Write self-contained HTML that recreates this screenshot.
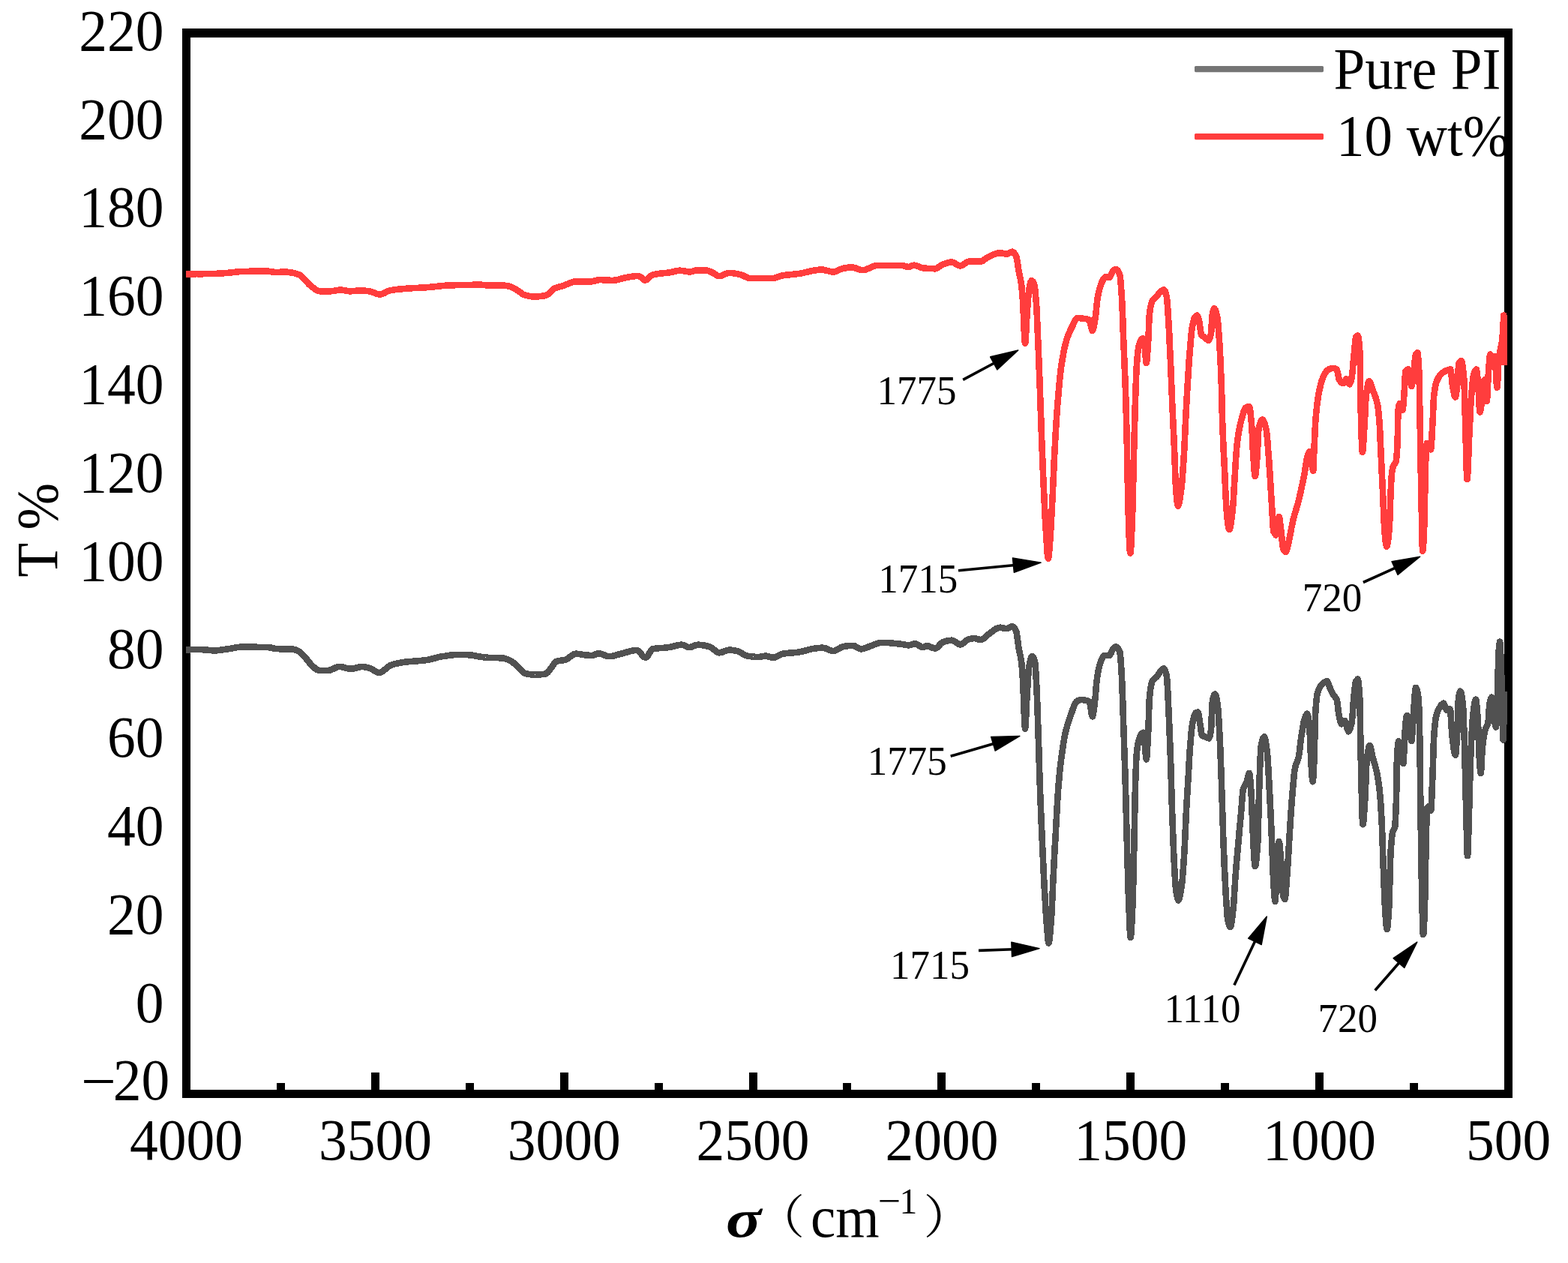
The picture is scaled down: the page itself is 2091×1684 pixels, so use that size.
<!DOCTYPE html>
<html lang="en"><head><meta charset="utf-8"><title>FTIR spectra</title>
<style>html,body{margin:0;padding:0;background:#fff}body{width:2091px;height:1684px;overflow:hidden}svg{display:block}text{font-family:'Liberation Serif', 'Noto Serif CJK SC', serif;fill:#000}</style>
</head><body>
<svg width="2091" height="1684" viewBox="0 0 2091 1684">
<rect x="0" y="0" width="2091" height="1684" fill="#fff"/>
<g id="legend">
<rect x="1593" y="88" width="172" height="8.2" rx="1.6" fill="#757575"/>
<rect x="1593" y="178" width="172" height="8.2" rx="1.6" fill="#ff3d3d"/>
<text transform="translate(1778.6 117.6) scale(1.000 1.030)" font-size="75.0">Pure PI</text>
<text transform="translate(1782.0 206.8) scale(1.000 1.045)" font-size="75.0">10 wt%</text>
</g>
<g id="frame" fill="#000" shape-rendering="crispEdges">
<rect x="243" y="38" width="1774" height="12"/>
<rect x="243" y="1453" width="1774" height="11"/>
<rect x="243" y="38" width="11" height="1426"/>
<rect x="2006" y="38" width="11" height="1426"/>
<rect x="495" y="1430" width="11" height="24"/>
<rect x="747" y="1430" width="11" height="24"/>
<rect x="999" y="1430" width="11" height="24"/>
<rect x="1250" y="1430" width="11" height="24"/>
<rect x="1502" y="1430" width="11" height="24"/>
<rect x="1754" y="1430" width="11" height="24"/>
<rect x="369" y="1444" width="11" height="10"/>
<rect x="621" y="1444" width="11" height="10"/>
<rect x="873" y="1444" width="11" height="10"/>
<rect x="1124" y="1444" width="11" height="10"/>
<rect x="1376" y="1444" width="11" height="10"/>
<rect x="1628" y="1444" width="11" height="10"/>
<rect x="1880" y="1444" width="11" height="10"/>
</g>
<g id="yticks">
<text transform="translate(218.6 66.7) scale(1.000 1.050)" font-size="75.5" text-anchor="end">220</text>
<text transform="translate(218.6 184.5) scale(1.000 1.050)" font-size="75.5" text-anchor="end">200</text>
<text transform="translate(218.6 302.3) scale(1.000 1.050)" font-size="75.5" text-anchor="end">180</text>
<text transform="translate(218.6 420.1) scale(1.000 1.050)" font-size="75.5" text-anchor="end">160</text>
<text transform="translate(218.6 537.9) scale(1.000 1.050)" font-size="75.5" text-anchor="end">140</text>
<text transform="translate(218.6 655.8) scale(1.000 1.050)" font-size="75.5" text-anchor="end">120</text>
<text transform="translate(218.6 773.6) scale(1.000 1.050)" font-size="75.5" text-anchor="end">100</text>
<text transform="translate(218.6 891.4) scale(1.000 1.050)" font-size="75.5" text-anchor="end">80</text>
<text transform="translate(218.6 1009.2) scale(1.000 1.050)" font-size="75.5" text-anchor="end">60</text>
<text transform="translate(218.6 1127.0) scale(1.000 1.050)" font-size="75.5" text-anchor="end">40</text>
<text transform="translate(218.6 1244.8) scale(1.000 1.050)" font-size="75.5" text-anchor="end">20</text>
<text transform="translate(218.6 1362.6) scale(1.000 1.050)" font-size="75.5" text-anchor="end">0</text>
<text transform="translate(108.0 1467.5) scale(1.100 1.050)" font-size="75.5">−</text>
<text transform="translate(226.3 1466.3) scale(1.000 1.050)" font-size="75.5" text-anchor="end">20</text>
</g>
<g id="xticks">
<text transform="translate(248.5 1546.4) scale(1.000 1.050)" font-size="75.5" text-anchor="middle">4000</text>
<text transform="translate(500.4 1546.4) scale(1.000 1.050)" font-size="75.5" text-anchor="middle">3500</text>
<text transform="translate(752.2 1546.4) scale(1.000 1.050)" font-size="75.5" text-anchor="middle">3000</text>
<text transform="translate(1004.1 1546.4) scale(1.000 1.050)" font-size="75.5" text-anchor="middle">2500</text>
<text transform="translate(1255.9 1546.4) scale(1.000 1.050)" font-size="75.5" text-anchor="middle">2000</text>
<text transform="translate(1507.8 1546.4) scale(1.000 1.050)" font-size="75.5" text-anchor="middle">1500</text>
<text transform="translate(1759.6 1546.4) scale(1.000 1.050)" font-size="75.5" text-anchor="middle">1000</text>
<text transform="translate(2011.5 1546.4) scale(1.000 1.050)" font-size="75.5" text-anchor="middle">500</text>
</g>
<g id="titles">
<text transform="translate(76.4 769.6) rotate(-90) scale(1.000 1.030)" font-size="75.0">T %</text>
<text transform="translate(968.0 1649.0) scale(1.170 0.970)" font-size="75.0" font-style="italic" font-weight="bold">σ</text>
<text transform="translate(1007.6 1644.8) scale(1.060 1.000)" font-size="62.0">（</text>
<text transform="translate(1081.0 1649.0) scale(1.000 1.030)" font-size="75.0">cm</text>
<text transform="translate(1170.5 1618.2) scale(1.080 1.000)" font-size="50.0">−</text>
<text transform="translate(1199.5 1618.2) scale(1.000 1.040)" font-size="47.5">1</text>
<text transform="translate(1231.4 1644.8) scale(1.060 1.000)" font-size="62.0">）</text>
</g>
<g id="curves" fill="none" stroke-width="8.6" stroke-linejoin="round" stroke-linecap="butt" shape-rendering="crispEdges">
<polyline stroke="#515151" points="247.9,866.6 250.9,866.4 253.9,866.2 256.9,866.1 259.8,866.0 262.8,866.0 265.8,866.0 268.7,866.1 271.5,866.3 274.4,866.6 277.3,866.8 280.2,867.1 283.0,867.3 285.9,867.4 288.8,867.3 291.6,867.0 294.5,866.7 297.4,866.2 300.2,865.8 303.1,865.4 306.0,865.0 308.8,864.5 311.7,863.9 314.6,863.4 317.5,863.0 320.3,862.7 323.2,862.6 326.1,862.6 328.9,862.6 331.8,862.6 334.7,862.7 337.5,862.7 340.4,862.7 343.3,862.8 346.1,862.8 349.0,862.9 351.9,862.9 354.7,863.0 357.6,863.1 360.5,863.4 363.4,864.1 366.2,864.8 369.1,865.1 372.0,865.2 374.8,865.2 377.7,865.2 380.6,865.3 383.5,865.3 386.3,865.3 389.2,865.4 392.1,865.8 394.9,866.8 397.8,868.0 400.7,870.0 403.5,872.9 406.4,876.0 409.3,879.3 412.1,883.0 415.0,886.1 417.5,888.6 420.1,891.1 422.6,893.0 425.1,893.8 427.7,893.8 430.3,893.8 432.8,893.8 435.4,893.8 438.0,893.8 440.9,893.3 443.7,892.1 446.6,890.7 449.4,889.5 452.3,889.0 454.9,889.2 457.6,889.7 460.2,890.4 462.8,891.1 465.5,891.6 468.1,891.8 471.0,891.5 473.9,890.8 476.7,890.0 479.6,889.3 482.5,889.0 485.4,889.2 488.2,889.7 491.0,890.4 493.9,891.2 496.8,892.6 499.6,894.5 502.5,896.2 505.4,897.0 507.8,896.4 510.2,894.9 512.6,893.3 515.5,891.1 518.3,888.6 521.2,886.9 524.1,885.9 526.9,885.1 529.8,884.5 532.7,883.9 535.6,883.4 538.4,883.0 541.3,882.6 544.2,882.3 547.0,882.0 549.9,881.8 552.8,881.6 555.6,881.4 558.5,881.1 561.4,880.9 564.2,880.6 567.1,880.3 570.0,879.8 572.9,879.3 575.7,878.6 578.6,877.8 581.5,877.1 584.4,876.3 587.2,875.7 590.1,875.2 593.0,874.8 595.8,874.3 598.7,873.9 601.6,873.5 604.5,873.2 607.3,873.0 610.2,872.9 613.1,872.9 615.9,873.0 618.8,873.0 621.6,873.1 624.5,873.2 627.4,873.4 630.2,873.8 633.1,874.3 636.0,874.8 638.9,875.4 641.8,875.9 644.6,876.3 647.5,876.6 650.4,876.8 653.2,876.9 656.1,876.9 659.0,877.0 661.8,877.1 664.7,877.2 667.5,877.3 670.4,877.5 673.3,878.0 676.1,879.0 679.0,880.3 681.9,881.8 684.4,883.5 686.9,885.7 689.4,888.1 691.9,890.4 694.8,893.4 697.6,896.4 700.5,898.1 703.1,898.6 705.7,899.0 708.3,899.3 710.9,899.5 713.5,899.6 716.4,899.6 719.2,899.4 722.1,899.2 724.9,898.8 727.8,898.4 730.2,896.8 732.6,893.6 735.0,890.4 737.4,887.1 739.8,883.8 742.2,881.8 745.1,881.1 747.9,880.7 750.8,880.4 753.6,879.8 756.5,878.5 759.4,876.4 762.2,874.2 765.1,872.4 768.0,871.7 770.9,871.9 773.8,872.3 776.6,872.8 779.5,873.2 782.0,873.5 784.5,873.7 787.0,873.9 789.5,874.0 792.4,873.3 795.2,871.9 798.1,871.2 801.0,871.6 803.9,872.6 806.7,873.8 809.6,874.8 812.5,875.2 815.1,875.0 817.7,874.6 820.4,873.9 823.0,873.1 825.6,872.4 828.2,871.7 831.1,870.9 834.1,870.1 837.0,869.2 840.0,868.3 842.9,867.6 845.9,867.1 848.8,866.9 851.3,867.9 853.7,870.4 856.2,873.4 858.6,875.9 861.1,876.9 863.4,875.2 865.7,871.4 868.0,867.5 870.3,865.4 873.0,864.9 875.7,864.5 878.4,864.2 881.0,864.0 883.7,863.9 886.4,863.7 889.1,863.4 891.8,863.1 894.7,862.6 897.5,861.9 900.4,861.1 903.3,860.4 906.1,859.9 909.0,859.7 911.5,860.2 914.0,861.4 916.6,862.6 919.1,863.1 922.0,862.6 924.9,861.4 927.7,860.2 930.6,859.7 933.2,859.8 935.8,860.1 938.5,860.5 941.1,861.0 943.7,861.6 946.3,862.3 948.9,863.6 951.5,865.6 954.1,867.8 956.7,869.6 959.3,870.3 961.9,869.9 964.5,869.0 967.0,867.9 969.6,867.0 972.2,866.6 975.1,866.7 977.9,867.1 980.8,867.7 983.6,868.3 986.2,869.3 988.8,870.7 991.4,872.4 994.0,873.8 996.6,874.6 999.2,875.0 1001.8,875.3 1004.5,875.6 1007.1,875.8 1009.7,876.0 1012.3,876.0 1015.2,875.6 1018.0,875.0 1020.9,874.6 1023.4,875.0 1026.0,875.8 1028.5,876.5 1031.0,876.9 1033.6,876.4 1036.2,875.3 1038.7,873.8 1041.3,872.5 1043.9,871.7 1046.8,871.3 1049.6,871.0 1052.5,870.7 1055.4,870.5 1058.3,870.3 1061.1,870.0 1064.0,869.7 1066.9,869.2 1069.7,868.6 1072.6,867.9 1075.5,867.1 1078.3,866.3 1081.2,865.6 1084.0,865.0 1086.9,864.6 1089.4,864.3 1092.0,864.0 1094.5,863.8 1097.0,863.7 1099.9,864.1 1102.7,865.2 1105.6,866.5 1108.4,867.6 1111.3,868.0 1113.9,867.5 1116.5,866.2 1119.0,864.6 1121.6,863.2 1124.2,862.3 1126.8,861.8 1129.4,861.4 1132.0,861.1 1134.6,860.9 1137.2,860.8 1140.0,861.5 1142.9,863.1 1145.8,864.7 1148.6,865.4 1151.5,865.0 1154.3,864.0 1157.2,862.8 1160.1,861.7 1162.7,860.8 1165.4,859.7 1168.0,858.6 1170.6,857.7 1173.3,857.0 1175.9,856.8 1178.8,856.8 1181.6,856.9 1184.5,857.1 1187.4,857.3 1190.2,857.6 1193.1,857.9 1196.0,858.2 1198.8,858.5 1201.7,858.8 1204.2,859.2 1206.8,859.7 1209.3,860.1 1211.8,860.3 1214.7,859.8 1217.5,858.7 1220.4,858.2 1222.9,859.0 1225.4,860.6 1227.9,862.3 1230.4,863.1 1233.3,862.1 1236.2,861.1 1238.9,861.6 1241.7,862.9 1244.4,864.1 1247.1,864.6 1249.8,863.4 1252.4,860.7 1255.0,857.8 1257.7,856.0 1260.6,855.1 1263.5,854.4 1266.3,853.9 1269.2,853.7 1272.0,854.6 1274.9,856.6 1277.8,858.5 1280.6,859.4 1283.5,858.4 1286.3,856.1 1289.2,853.7 1292.1,852.2 1294.5,851.7 1296.9,851.3 1299.3,851.1 1302.2,851.6 1305.0,852.6 1307.9,853.1 1310.4,852.3 1312.9,850.3 1315.4,847.9 1317.9,845.9 1320.5,844.0 1323.2,842.0 1325.8,840.0 1328.4,838.3 1331.1,837.1 1333.7,836.7 1336.6,837.1 1339.4,837.8 1342.3,838.2 1344.9,837.4 1347.4,835.9 1350.0,835.1 1352.5,836.9 1355.1,841.4 1355.9,845.1 1356.8,851.3 1357.7,858.2 1358.5,864.2 1359.6,869.7 1360.8,874.6 1361.9,881.3 1362.4,885.1 1362.8,889.9 1363.3,895.6 1363.7,902.3 1364.2,909.8 1364.4,913.9 1364.6,919.0 1364.8,924.8 1365.0,930.8 1365.2,936.7 1365.4,942.2 1365.6,946.8 1365.9,953.3 1366.2,959.9 1366.5,965.8 1366.8,970.0 1367.1,971.6 1367.4,970.1 1367.7,965.9 1368.0,960.0 1368.4,952.9 1368.7,945.5 1369.0,938.5 1369.3,932.6 1369.7,926.5 1370.0,920.1 1370.4,913.7 1370.8,907.6 1371.1,901.8 1371.5,896.8 1371.8,892.7 1372.2,889.8 1373.5,882.3 1374.9,877.0 1376.2,875.0 1378.1,876.7 1379.9,881.3 1380.2,883.2 1380.6,886.6 1381.0,891.1 1381.3,896.7 1381.7,903.0 1382.0,909.8 1382.4,916.9 1382.7,924.0 1382.9,928.3 1383.1,933.2 1383.3,938.5 1383.5,944.2 1383.7,950.1 1383.9,956.3 1384.1,962.5 1384.3,968.8 1384.5,975.0 1384.7,981.0 1384.9,986.8 1385.1,992.7 1385.3,998.8 1385.5,1004.9 1385.7,1011.1 1385.8,1017.3 1386.0,1023.4 1386.2,1029.5 1386.4,1035.5 1386.6,1041.3 1386.8,1046.9 1387.0,1052.3 1387.2,1058.9 1387.5,1065.3 1387.7,1071.6 1388.0,1077.8 1388.2,1083.9 1388.5,1089.8 1388.7,1095.7 1388.9,1101.4 1389.2,1107.1 1389.4,1112.7 1389.7,1118.2 1389.9,1123.6 1390.2,1130.1 1390.5,1136.5 1390.8,1142.9 1391.1,1149.2 1391.4,1155.4 1391.7,1161.5 1391.9,1167.5 1392.2,1173.3 1392.5,1179.0 1392.8,1184.4 1393.1,1189.7 1393.4,1194.8 1393.8,1200.9 1394.1,1206.9 1394.5,1212.7 1394.8,1218.2 1395.2,1223.5 1395.6,1228.6 1395.9,1233.3 1396.3,1237.6 1396.8,1244.1 1397.3,1250.6 1397.9,1255.6 1398.4,1257.6 1399.0,1256.2 1399.6,1252.2 1400.2,1246.4 1400.8,1239.2 1401.4,1231.3 1402.0,1223.3 1402.3,1219.2 1402.6,1214.4 1402.8,1209.0 1403.1,1203.2 1403.4,1197.0 1403.7,1190.7 1404.0,1184.3 1404.2,1178.0 1404.5,1172.0 1404.8,1166.3 1405.1,1160.4 1405.4,1154.5 1405.7,1148.7 1406.0,1142.9 1406.3,1137.2 1406.6,1131.5 1406.9,1125.9 1407.3,1120.3 1407.6,1114.8 1407.9,1109.3 1408.2,1103.3 1408.5,1097.1 1408.9,1090.9 1409.2,1084.7 1409.5,1078.7 1409.9,1072.8 1410.2,1067.1 1410.5,1061.8 1410.9,1056.8 1411.2,1052.3 1411.7,1045.7 1412.3,1039.4 1412.8,1033.6 1413.3,1028.1 1413.9,1023.0 1414.4,1018.2 1415.0,1013.7 1415.5,1009.5 1416.5,1002.5 1417.4,996.0 1418.3,990.0 1419.3,984.5 1420.2,979.6 1421.2,975.3 1423.0,968.4 1424.8,962.6 1426.5,957.4 1428.3,952.5 1430.7,945.5 1433.1,939.1 1435.5,935.4 1438.3,933.8 1441.2,933.1 1444.0,933.2 1446.9,933.6 1449.8,934.3 1452.6,935.4 1453.7,938.8 1454.8,945.6 1455.8,952.4 1456.9,955.4 1457.8,952.5 1458.8,945.8 1459.7,938.3 1460.2,933.7 1460.8,928.2 1461.3,922.1 1461.8,915.9 1462.3,910.1 1462.9,905.1 1463.4,901.2 1464.6,894.6 1465.8,889.1 1467.1,884.7 1468.3,881.3 1470.4,876.4 1472.5,874.1 1474.9,874.1 1477.3,874.1 1479.7,874.1 1481.8,870.4 1483.9,865.6 1486.1,863.3 1488.2,862.2 1490.7,863.8 1493.1,868.4 1493.6,870.5 1494.0,874.4 1494.5,879.8 1495.0,886.2 1495.4,893.5 1495.9,901.2 1496.1,905.1 1496.3,909.8 1496.5,915.1 1496.7,920.9 1496.9,927.1 1497.2,933.7 1497.4,940.4 1497.6,947.1 1497.8,953.9 1498.0,960.5 1498.2,966.8 1498.4,972.3 1498.6,977.7 1498.8,983.2 1498.9,988.6 1499.1,994.1 1499.3,999.6 1499.5,1005.1 1499.7,1010.7 1499.9,1016.3 1500.1,1022.0 1500.3,1027.9 1500.4,1033.8 1500.6,1039.8 1500.8,1046.0 1501.0,1052.3 1501.1,1057.5 1501.3,1062.9 1501.4,1068.5 1501.6,1074.2 1501.7,1080.0 1501.9,1086.0 1502.0,1092.0 1502.2,1098.0 1502.3,1104.0 1502.5,1109.9 1502.6,1115.8 1502.8,1121.5 1502.9,1127.1 1503.1,1132.6 1503.2,1137.8 1503.4,1144.4 1503.6,1150.9 1503.8,1157.5 1504.0,1163.9 1504.2,1170.3 1504.4,1176.5 1504.5,1182.5 1504.7,1188.4 1504.9,1194.0 1505.1,1199.3 1505.3,1204.4 1505.5,1209.1 1505.8,1216.6 1506.1,1224.5 1506.4,1232.2 1506.7,1239.2 1507.0,1244.8 1507.3,1248.6 1507.6,1250.0 1508.0,1248.8 1508.4,1245.4 1508.8,1240.2 1509.1,1233.6 1509.5,1226.0 1509.9,1217.7 1510.3,1209.1 1510.4,1205.6 1510.6,1201.6 1510.7,1197.1 1510.9,1192.2 1511.0,1186.9 1511.2,1181.3 1511.3,1175.3 1511.5,1169.2 1511.6,1162.8 1511.7,1156.4 1511.9,1149.8 1512.0,1143.2 1512.2,1136.6 1512.3,1130.0 1512.5,1123.6 1512.6,1118.0 1512.7,1112.0 1512.8,1105.7 1512.9,1099.2 1513.1,1092.6 1513.2,1085.9 1513.3,1079.4 1513.4,1073.1 1513.5,1067.2 1513.7,1061.6 1513.8,1056.6 1513.9,1052.3 1514.1,1045.0 1514.3,1038.0 1514.6,1031.3 1514.8,1025.0 1515.0,1019.3 1515.2,1014.2 1515.5,1009.9 1515.7,1006.4 1515.9,1003.8 1516.8,996.2 1517.8,990.6 1518.7,986.6 1519.6,983.9 1522.0,978.9 1524.4,976.8 1525.2,979.5 1525.9,985.6 1526.7,992.4 1527.2,997.8 1527.7,1004.4 1528.2,1010.0 1528.7,1012.4 1529.1,1011.0 1529.5,1007.3 1529.8,1001.9 1530.2,995.3 1530.6,988.1 1531.0,981.0 1531.2,976.3 1531.4,970.5 1531.7,963.9 1531.9,956.9 1532.1,949.9 1532.3,943.3 1532.6,937.5 1532.8,932.8 1533.0,929.7 1533.9,921.4 1534.8,915.2 1535.8,910.8 1536.7,908.3 1539.6,905.0 1542.4,902.6 1545.2,898.2 1548.1,894.1 1549.9,892.2 1551.8,891.2 1553.8,893.9 1555.8,901.2 1556.1,903.6 1556.4,907.5 1556.7,912.7 1557.1,918.7 1557.4,925.2 1557.7,931.8 1558.0,938.3 1558.2,943.2 1558.5,948.3 1558.7,953.7 1559.0,959.2 1559.2,964.9 1559.5,970.9 1559.7,976.9 1559.9,983.2 1560.2,989.6 1560.4,996.1 1560.7,1002.7 1560.9,1009.5 1561.1,1014.8 1561.3,1020.5 1561.4,1026.4 1561.6,1032.5 1561.8,1038.7 1562.0,1045.0 1562.2,1051.3 1562.4,1057.6 1562.5,1063.7 1562.7,1069.7 1562.9,1075.4 1563.1,1080.8 1563.3,1087.5 1563.6,1094.2 1563.8,1100.8 1564.0,1107.4 1564.3,1113.8 1564.5,1120.0 1564.7,1126.0 1565.0,1131.8 1565.2,1137.4 1565.4,1142.6 1565.7,1147.5 1565.9,1152.1 1566.3,1159.2 1566.7,1166.1 1567.0,1172.5 1567.4,1178.2 1567.8,1182.9 1568.2,1186.3 1569.3,1193.3 1570.3,1198.5 1571.4,1200.5 1572.5,1198.8 1573.6,1194.2 1574.7,1187.9 1575.8,1180.6 1576.2,1177.3 1576.7,1173.2 1577.1,1168.4 1577.5,1163.1 1578.0,1157.3 1578.4,1151.1 1578.9,1144.6 1579.3,1137.8 1579.6,1133.2 1579.8,1128.1 1580.1,1122.5 1580.4,1116.5 1580.7,1110.4 1580.9,1104.1 1581.2,1097.9 1581.5,1091.9 1581.7,1086.1 1582.0,1080.8 1582.3,1075.0 1582.6,1069.5 1583.0,1064.1 1583.3,1058.8 1583.6,1053.6 1583.9,1048.4 1584.2,1043.3 1584.5,1038.0 1584.9,1032.5 1585.2,1026.7 1585.5,1020.9 1585.8,1015.1 1586.1,1009.6 1586.5,1004.3 1586.8,999.5 1587.1,995.3 1587.7,988.0 1588.3,981.0 1588.9,974.7 1589.6,969.1 1590.2,964.5 1590.8,961.1 1592.7,953.8 1594.5,950.3 1597.4,949.7 1598.3,952.3 1599.3,958.0 1600.2,963.9 1601.2,970.5 1602.1,977.5 1603.1,981.0 1605.5,981.9 1607.9,982.5 1610.1,983.7 1612.2,984.5 1613.7,981.3 1615.1,972.5 1615.3,968.9 1615.6,962.7 1615.8,955.2 1616.0,947.8 1616.3,941.7 1616.5,938.3 1617.7,931.2 1619.0,926.9 1620.2,925.5 1621.3,927.3 1622.5,931.9 1623.6,938.3 1624.0,941.1 1624.3,944.9 1624.7,949.6 1625.0,955.0 1625.4,961.0 1625.8,967.5 1626.1,974.2 1626.5,981.0 1626.7,985.5 1627.0,990.5 1627.2,995.8 1627.4,1001.4 1627.6,1007.2 1627.9,1013.3 1628.1,1019.6 1628.3,1026.1 1628.6,1032.6 1628.8,1039.2 1629.0,1045.8 1629.2,1052.3 1629.4,1057.9 1629.6,1063.7 1629.8,1069.8 1630.0,1076.1 1630.2,1082.4 1630.4,1088.8 1630.6,1095.1 1630.8,1101.3 1631.0,1107.3 1631.1,1113.1 1631.3,1118.5 1631.5,1123.6 1631.8,1130.7 1632.1,1137.6 1632.4,1144.3 1632.6,1150.9 1632.9,1157.2 1633.2,1163.3 1633.5,1169.1 1633.8,1174.8 1634.1,1180.2 1634.3,1185.3 1634.6,1190.2 1634.9,1194.8 1635.3,1201.3 1635.7,1207.7 1636.1,1213.8 1636.5,1219.1 1636.9,1223.4 1637.3,1226.2 1639.0,1233.3 1640.7,1236.2 1641.5,1234.6 1642.3,1230.3 1643.2,1224.1 1644.0,1216.8 1644.8,1209.1 1645.2,1205.2 1645.5,1200.4 1645.9,1194.9 1646.2,1189.1 1646.6,1183.0 1647.0,1177.0 1647.3,1171.4 1647.7,1166.3 1648.2,1160.4 1648.6,1154.8 1649.1,1149.4 1649.5,1144.1 1650.0,1138.9 1650.5,1133.8 1650.9,1128.7 1651.4,1123.6 1651.9,1118.1 1652.4,1112.7 1652.8,1107.4 1653.3,1102.1 1653.8,1096.8 1654.3,1091.5 1654.8,1086.2 1655.3,1080.8 1655.8,1074.5 1656.3,1067.6 1656.8,1061.0 1657.3,1055.5 1657.9,1052.3 1660.0,1047.5 1662.1,1043.8 1663.4,1039.0 1664.7,1033.5 1666.0,1030.9 1666.5,1032.3 1667.0,1036.2 1667.4,1041.8 1667.9,1048.3 1668.4,1055.2 1668.6,1059.0 1668.9,1063.7 1669.1,1069.0 1669.3,1074.9 1669.5,1081.0 1669.8,1087.2 1670.0,1093.4 1670.2,1099.2 1670.5,1104.6 1670.7,1109.3 1671.1,1116.6 1671.5,1124.3 1671.8,1131.9 1672.2,1139.1 1672.6,1145.4 1673.0,1150.4 1673.3,1153.7 1673.7,1154.9 1674.3,1153.8 1674.9,1150.7 1675.5,1145.9 1676.0,1139.6 1676.6,1132.0 1677.2,1123.6 1677.4,1120.4 1677.5,1116.1 1677.7,1110.9 1677.9,1104.8 1678.0,1098.2 1678.2,1091.2 1678.4,1084.1 1678.5,1076.9 1678.7,1070.0 1678.9,1063.4 1679.0,1057.5 1679.2,1052.3 1679.4,1045.2 1679.7,1037.9 1679.9,1030.6 1680.2,1023.6 1680.4,1016.9 1680.7,1010.7 1680.9,1005.3 1681.2,1000.8 1681.4,997.4 1681.7,995.3 1683.1,988.4 1684.5,984.0 1685.9,982.5 1686.9,984.3 1687.9,989.0 1688.9,995.8 1689.9,1003.8 1690.2,1007.0 1690.5,1011.1 1690.9,1016.0 1691.2,1021.5 1691.5,1027.4 1691.8,1033.6 1692.2,1039.9 1692.5,1046.2 1692.8,1052.3 1693.1,1057.5 1693.4,1062.8 1693.6,1068.2 1693.9,1073.8 1694.2,1079.4 1694.5,1085.2 1694.8,1091.1 1695.0,1097.0 1695.3,1103.1 1695.6,1109.3 1695.8,1115.0 1696.1,1121.1 1696.3,1127.5 1696.6,1134.2 1696.8,1141.0 1697.0,1147.7 1697.3,1154.3 1697.5,1160.6 1697.8,1166.5 1698.0,1171.9 1698.3,1176.7 1698.5,1180.6 1699.0,1188.0 1699.5,1194.9 1700.0,1200.0 1700.5,1202.0 1700.8,1200.7 1701.0,1197.0 1701.3,1191.5 1701.5,1184.9 1701.8,1177.5 1702.0,1170.0 1702.3,1162.9 1702.5,1156.7 1702.8,1152.1 1703.4,1143.8 1703.9,1135.7 1704.5,1128.8 1705.0,1123.9 1705.6,1122.1 1706.2,1124.1 1706.8,1129.2 1707.3,1136.4 1707.9,1144.4 1708.5,1152.1 1708.8,1157.1 1709.2,1163.2 1709.5,1169.8 1709.9,1176.5 1710.2,1182.8 1710.6,1188.3 1711.0,1192.5 1711.3,1194.8 1713.3,1199.1 1713.8,1197.6 1714.3,1193.5 1714.8,1187.6 1715.4,1180.7 1715.9,1173.3 1716.4,1166.3 1716.8,1161.6 1717.1,1156.4 1717.5,1150.8 1717.8,1144.9 1718.2,1138.9 1718.5,1132.7 1718.9,1126.6 1719.2,1120.6 1719.6,1114.8 1719.9,1109.3 1720.3,1103.5 1720.7,1097.8 1721.0,1092.1 1721.4,1086.4 1721.8,1080.9 1722.2,1075.6 1722.5,1070.4 1722.9,1065.5 1723.3,1060.9 1723.8,1054.6 1724.4,1048.2 1724.9,1042.0 1725.4,1036.3 1725.9,1031.1 1726.5,1026.9 1727.0,1023.8 1728.6,1018.3 1730.2,1014.6 1731.8,1009.5 1732.5,1005.2 1733.3,999.4 1734.0,992.8 1734.8,986.4 1735.5,981.0 1736.6,974.2 1737.7,967.7 1738.7,962.2 1739.8,958.2 1741.5,953.8 1743.2,951.7 1744.2,954.3 1745.1,960.8 1746.1,969.6 1746.4,973.2 1746.7,978.2 1747.0,984.2 1747.2,990.8 1747.5,997.6 1747.8,1004.2 1748.1,1010.2 1748.4,1015.2 1748.8,1022.3 1749.3,1029.5 1749.7,1036.0 1750.2,1040.5 1750.6,1042.3 1750.9,1041.0 1751.3,1037.3 1751.6,1031.7 1751.9,1024.9 1752.3,1017.3 1752.6,1009.5 1752.8,1005.3 1752.9,999.9 1753.0,993.6 1753.2,986.8 1753.3,979.8 1753.5,972.9 1753.6,966.4 1753.8,960.6 1753.9,955.9 1754.1,952.5 1754.7,943.8 1755.2,936.6 1755.8,930.9 1756.3,926.7 1756.9,924.0 1759.8,916.4 1762.6,912.6 1765.0,910.5 1767.3,908.9 1769.7,908.3 1771.8,912.1 1774.0,918.3 1776.2,922.9 1778.3,926.9 1780.4,929.3 1782.6,932.6 1783.3,936.0 1784.0,941.6 1784.7,947.7 1785.4,952.5 1786.5,958.4 1787.7,963.3 1788.8,965.4 1791.1,963.3 1793.4,961.1 1795.0,964.8 1796.7,971.6 1798.3,975.3 1800.4,972.0 1802.5,963.9 1803.0,960.4 1803.5,955.1 1804.0,948.5 1804.4,941.6 1804.9,935.0 1805.4,929.7 1806.1,923.0 1806.8,916.5 1807.5,911.2 1808.2,908.3 1810.5,905.5 1811.0,906.6 1811.6,909.7 1812.1,914.7 1812.7,921.5 1813.2,929.7 1813.3,932.1 1813.4,935.6 1813.5,940.1 1813.6,945.4 1813.7,951.4 1813.9,958.0 1814.0,964.9 1814.1,971.9 1814.2,979.0 1814.3,986.0 1814.4,992.7 1814.5,999.0 1814.6,1004.6 1814.7,1009.5 1814.9,1017.3 1815.1,1025.3 1815.2,1033.4 1815.4,1041.6 1815.6,1049.6 1815.8,1057.5 1816.0,1065.0 1816.1,1072.1 1816.3,1078.6 1816.5,1084.4 1816.7,1089.5 1816.9,1093.6 1817.0,1096.7 1817.2,1098.6 1817.4,1099.3 1817.9,1097.9 1818.4,1094.1 1818.8,1088.5 1819.3,1081.6 1819.8,1074.1 1820.3,1066.6 1820.6,1062.0 1820.8,1056.2 1821.1,1049.7 1821.3,1042.7 1821.6,1035.7 1821.8,1029.0 1822.1,1023.2 1822.3,1018.4 1822.6,1015.2 1823.6,1006.8 1824.6,1000.0 1825.6,995.5 1826.6,993.9 1827.9,996.9 1829.2,1003.3 1830.5,1009.5 1832.1,1015.0 1833.7,1020.3 1835.3,1026.6 1836.2,1030.6 1837.0,1034.9 1837.9,1039.8 1838.7,1045.5 1839.6,1052.3 1839.9,1055.8 1840.3,1059.9 1840.7,1064.5 1841.1,1069.7 1841.5,1075.3 1841.8,1081.4 1842.2,1088.0 1842.6,1095.1 1842.8,1099.4 1843.0,1104.3 1843.2,1109.8 1843.4,1115.6 1843.6,1121.8 1843.8,1128.1 1844.0,1134.4 1844.2,1140.6 1844.4,1146.5 1844.6,1152.1 1844.8,1158.3 1845.1,1164.7 1845.3,1171.1 1845.5,1177.5 1845.8,1183.8 1846.0,1189.8 1846.2,1195.4 1846.4,1200.6 1846.7,1205.2 1846.9,1209.1 1847.4,1217.6 1848.0,1225.6 1848.5,1232.5 1849.1,1237.2 1849.6,1239.0 1850.1,1237.3 1850.7,1232.8 1851.2,1226.2 1851.8,1218.0 1852.3,1209.1 1852.5,1205.3 1852.7,1200.4 1852.8,1194.4 1853.0,1187.8 1853.2,1180.6 1853.4,1173.3 1853.6,1165.9 1853.8,1158.8 1854.0,1152.2 1854.1,1146.3 1854.3,1141.4 1854.5,1137.8 1855.0,1129.5 1855.6,1122.4 1856.1,1116.5 1856.7,1112.1 1857.2,1109.3 1860.0,1103.6 1860.3,1101.8 1860.5,1098.5 1860.8,1094.0 1861.1,1088.5 1861.4,1081.9 1861.7,1074.6 1862.0,1066.6 1862.1,1062.7 1862.2,1057.3 1862.3,1050.9 1862.4,1043.9 1862.5,1036.6 1862.6,1029.4 1862.7,1022.7 1862.8,1016.9 1862.9,1012.3 1863.0,1009.5 1863.5,1000.6 1864.1,993.9 1864.7,989.7 1865.2,988.2 1866.3,990.6 1867.3,996.4 1868.4,1003.4 1869.5,1009.5 1870.5,1014.9 1871.5,1018.1 1871.7,1016.4 1872.0,1012.1 1872.2,1005.9 1872.5,998.8 1872.7,991.7 1873.0,985.5 1873.2,981.0 1873.8,973.1 1874.4,965.8 1874.9,959.7 1875.5,955.5 1876.1,953.9 1877.2,956.6 1878.4,962.8 1879.5,969.6 1880.2,974.7 1880.9,980.8 1881.6,986.0 1882.3,988.2 1882.7,986.5 1883.1,982.1 1883.5,975.6 1884.0,968.0 1884.4,960.2 1884.8,952.8 1885.2,946.8 1885.8,939.3 1886.3,931.4 1886.9,924.1 1887.4,918.9 1888.0,916.9 1889.2,918.4 1890.3,922.7 1891.5,929.7 1891.7,931.7 1891.9,934.9 1892.1,939.2 1892.3,944.4 1892.4,950.5 1892.6,957.3 1892.8,964.7 1893.0,972.7 1893.2,981.0 1893.3,984.6 1893.3,988.9 1893.4,993.7 1893.5,998.9 1893.6,1004.6 1893.6,1010.6 1893.7,1016.8 1893.8,1023.2 1893.9,1029.7 1893.9,1036.3 1894.0,1042.7 1894.1,1049.1 1894.2,1055.2 1894.2,1061.1 1894.3,1066.6 1894.4,1073.1 1894.5,1079.8 1894.6,1086.4 1894.7,1093.1 1894.7,1099.9 1894.8,1106.6 1894.9,1113.2 1895.0,1119.8 1895.1,1126.3 1895.2,1132.7 1895.3,1139.0 1895.4,1145.0 1895.5,1150.9 1895.6,1156.6 1895.6,1162.0 1895.7,1167.1 1895.8,1171.9 1895.9,1176.4 1896.0,1180.6 1896.2,1188.8 1896.4,1197.1 1896.5,1205.4 1896.7,1213.4 1896.9,1220.9 1897.1,1227.8 1897.3,1233.9 1897.5,1238.9 1897.6,1242.8 1897.8,1245.2 1898.0,1246.1 1898.3,1245.0 1898.6,1242.0 1898.9,1237.3 1899.1,1231.3 1899.4,1224.4 1899.7,1216.9 1900.0,1209.1 1900.1,1205.6 1900.2,1201.4 1900.3,1196.6 1900.5,1191.2 1900.6,1185.4 1900.7,1179.3 1900.8,1172.9 1900.9,1166.4 1901.0,1159.7 1901.1,1153.1 1901.2,1146.6 1901.4,1140.3 1901.5,1134.3 1901.6,1128.7 1901.7,1123.6 1901.9,1116.7 1902.0,1109.4 1902.2,1101.9 1902.3,1094.7 1902.5,1088.3 1902.6,1083.1 1902.8,1079.5 1902.9,1078.0 1905.7,1075.1 1908.0,1080.8 1908.3,1079.7 1908.6,1076.6 1908.9,1071.8 1909.2,1065.9 1909.4,1059.2 1909.7,1052.0 1910.0,1044.8 1910.3,1038.0 1910.5,1033.0 1910.7,1027.2 1910.9,1020.8 1911.1,1014.2 1911.3,1007.4 1911.5,1000.8 1911.7,994.7 1911.9,989.1 1912.1,984.5 1912.3,981.0 1912.9,973.6 1913.4,967.4 1914.0,962.3 1914.5,958.3 1915.1,955.4 1917.2,948.3 1919.4,944.0 1922.2,939.7 1925.1,937.7 1927.2,942.2 1929.4,946.8 1931.6,946.1 1933.7,945.4 1934.2,947.5 1934.6,952.9 1935.1,960.3 1935.6,968.3 1936.0,975.7 1936.5,981.0 1937.4,988.3 1938.2,995.2 1939.1,1001.1 1939.9,1005.2 1940.8,1006.7 1941.2,1005.5 1941.6,1002.3 1942.0,997.5 1942.4,991.4 1942.8,984.4 1943.2,977.0 1943.6,969.6 1943.8,964.7 1944.0,958.3 1944.2,951.1 1944.5,943.9 1944.7,937.5 1944.9,932.5 1945.1,929.7 1946.2,923.9 1947.3,921.7 1948.5,923.8 1949.6,929.7 1950.8,938.3 1951.0,940.7 1951.2,944.1 1951.5,948.5 1951.7,953.6 1951.9,959.5 1952.1,965.9 1952.3,972.8 1952.5,979.9 1952.8,987.3 1953.0,994.8 1953.2,1002.2 1953.4,1009.5 1953.5,1014.3 1953.7,1019.5 1953.8,1024.9 1954.0,1030.6 1954.1,1036.5 1954.2,1042.6 1954.4,1048.7 1954.5,1054.9 1954.7,1061.1 1954.8,1067.2 1954.9,1073.2 1955.1,1079.1 1955.2,1084.7 1955.4,1090.1 1955.5,1095.1 1955.7,1102.1 1955.9,1109.6 1956.1,1117.3 1956.2,1124.7 1956.4,1131.2 1956.6,1136.4 1956.8,1139.9 1957.0,1141.2 1957.2,1139.9 1957.4,1136.4 1957.6,1131.1 1957.8,1124.5 1958.1,1117.2 1958.3,1109.5 1958.5,1102.0 1958.7,1095.1 1958.9,1089.9 1959.0,1084.3 1959.2,1078.5 1959.4,1072.4 1959.5,1066.2 1959.7,1059.9 1959.9,1053.5 1960.0,1047.2 1960.2,1041.0 1960.4,1034.9 1960.5,1029.1 1960.7,1023.6 1960.9,1018.4 1961.0,1013.7 1961.2,1009.5 1961.5,1002.0 1961.8,994.7 1962.2,987.8 1962.5,981.2 1962.8,975.0 1963.1,969.3 1963.4,964.1 1963.8,959.6 1964.1,955.7 1964.4,952.5 1965.3,945.1 1966.2,938.7 1967.0,934.3 1967.9,932.6 1968.5,934.0 1969.0,937.9 1969.6,943.6 1970.1,950.6 1970.7,958.2 1970.9,962.1 1971.1,967.2 1971.4,973.4 1971.6,980.1 1971.8,987.0 1972.0,993.8 1972.3,1000.0 1972.5,1005.4 1972.7,1009.5 1973.2,1017.1 1973.7,1024.0 1974.2,1029.0 1974.7,1030.9 1975.1,1028.7 1975.5,1023.2 1975.8,1015.7 1976.2,1007.6 1976.6,1000.4 1977.0,995.3 1977.9,987.6 1978.8,981.2 1979.8,976.2 1980.7,972.5 1982.6,968.6 1984.4,963.9 1984.8,960.5 1985.2,954.7 1985.6,948.0 1986.0,942.0 1986.4,938.3 1987.8,932.2 1989.2,929.7 1989.9,932.3 1990.7,938.6 1991.4,946.1 1992.1,952.5 1993.0,959.8 1994.0,966.6 1994.9,969.6 1995.2,968.4 1995.4,965.0 1995.7,959.8 1995.9,953.4 1996.2,946.2 1996.4,938.6 1996.7,931.0 1996.9,924.0 1997.1,918.7 1997.3,912.7 1997.4,906.1 1997.6,899.2 1997.8,892.4 1998.0,885.7 1998.2,879.6 1998.3,874.3 1998.5,870.0 1998.7,867.0 1999.4,859.1 2000.1,855.6 2000.4,856.9 2000.7,860.3 2001.0,865.6 2001.2,872.1 2001.5,879.6 2001.8,887.6 2002.1,895.5 2002.2,899.8 2002.4,904.8 2002.5,910.4 2002.7,916.4 2002.8,922.7 2002.9,929.1 2003.1,935.4 2003.2,941.5 2003.4,947.3 2003.5,952.5 2003.7,959.5 2003.9,967.0 2004.0,974.3 2004.2,980.5 2004.4,984.9 2004.6,986.5 2004.7,985.0 2004.9,981.0 2005.0,975.0 2005.2,967.8 2005.3,960.0 2005.4,956.3 2005.4,951.9 2005.5,946.8 2005.5,941.1 2005.6,935.0 2005.6,928.6 2005.7,922.0"/>
<polyline stroke="#ff3d3d" points="247.9,365.3 250.8,365.3 253.8,365.3 256.7,365.3 259.6,365.3 262.5,365.2 265.4,365.2 268.4,365.2 271.3,365.2 274.2,365.1 277.1,365.1 280.1,365.0 283.0,365.0 285.9,364.9 288.7,364.8 291.6,364.7 294.5,364.5 297.4,364.3 300.2,364.1 303.1,363.9 306.0,363.6 308.8,363.3 311.7,363.0 314.6,362.6 317.5,362.3 320.3,362.0 323.2,361.9 326.1,361.8 328.9,361.8 331.8,361.8 334.7,361.7 337.6,361.7 340.4,361.7 343.3,361.6 346.2,361.6 349.1,361.6 351.9,361.6 354.8,361.6 357.7,361.7 360.5,362.1 363.4,362.5 366.2,362.9 369.1,363.0 372.0,362.9 374.8,362.6 377.7,362.5 380.6,362.6 383.4,362.8 386.3,363.2 389.2,363.6 391.7,364.0 394.2,364.7 396.8,365.5 399.3,366.5 401.7,368.2 404.0,370.6 406.4,373.1 409.3,376.1 412.1,379.1 415.0,381.7 417.9,383.9 420.8,386.1 423.6,387.7 426.5,388.3 429.4,388.3 432.3,388.3 435.1,388.3 438.0,388.3 440.9,388.3 443.5,388.1 446.1,387.7 448.6,387.2 451.2,386.8 453.8,386.6 456.4,386.8 459.0,387.2 461.5,387.7 464.1,388.1 466.7,388.3 469.6,388.2 472.4,388.0 475.3,387.7 478.1,387.5 481.0,387.4 483.9,387.5 486.8,387.7 489.6,388.0 492.5,388.3 495.4,389.0 498.3,390.1 501.1,391.3 504.0,392.2 506.9,392.6 509.5,392.1 512.1,391.0 514.6,389.6 517.2,388.3 519.8,387.4 522.5,386.9 525.2,386.5 527.9,386.1 530.6,385.8 533.4,385.5 536.1,385.3 538.8,385.0 541.5,384.8 544.2,384.6 547.1,384.4 549.9,384.2 552.8,384.0 555.7,383.9 558.5,383.8 561.4,383.6 564.3,383.5 567.1,383.3 570.0,383.1 572.9,382.9 575.7,382.6 578.6,382.3 581.5,382.0 584.3,381.7 587.2,381.4 590.0,381.1 592.9,380.8 595.8,380.6 598.6,380.4 601.5,380.3 604.4,380.2 607.2,380.2 610.1,380.1 613.0,380.0 615.9,380.0 618.7,379.9 621.6,379.9 624.5,379.8 627.3,379.8 630.2,379.8 633.1,379.7 636.0,379.7 638.8,379.7 641.7,379.7 644.6,379.9 647.5,380.2 650.3,380.6 653.2,380.8 656.1,380.7 658.9,380.6 661.8,380.5 664.6,380.4 667.5,380.3 670.4,380.4 673.2,380.7 676.1,381.2 679.0,381.7 681.9,382.6 684.8,384.0 687.6,385.7 690.5,387.4 693.4,389.5 696.2,391.7 699.1,393.2 702.0,393.9 704.9,394.6 707.7,395.1 710.6,395.4 713.5,395.5 716.4,395.4 719.2,395.2 722.1,394.9 724.9,394.5 727.8,394.0 730.7,392.5 733.5,389.7 736.4,386.7 739.3,384.6 742.2,383.5 745.0,382.7 747.9,381.9 750.8,381.1 753.7,380.0 756.5,378.8 759.4,377.6 762.3,376.5 765.1,375.7 768.0,375.4 770.9,375.4 773.7,375.4 776.6,375.4 779.5,375.4 782.4,375.4 785.2,375.4 788.1,375.4 791.0,375.0 793.8,374.3 796.6,373.5 799.5,373.1 802.5,373.2 805.4,373.3 808.4,373.5 811.3,373.7 814.2,373.8 817.2,373.9 820.1,373.7 822.9,373.2 825.8,372.4 828.7,371.6 831.5,370.8 834.4,370.2 837.3,369.7 840.1,369.2 843.0,368.7 845.9,368.3 848.7,368.0 851.6,367.9 854.5,369.4 857.4,372.2 860.3,373.7 862.8,372.7 865.3,370.4 867.8,368.0 870.3,366.5 873.0,365.9 875.7,365.4 878.4,364.9 881.1,364.6 883.9,364.3 886.6,364.0 889.3,363.8 892.0,363.4 894.7,363.0 897.6,362.4 900.5,361.6 903.3,361.0 906.2,360.7 909.1,360.9 911.9,361.3 914.8,361.9 917.6,362.3 920.5,362.5 923.4,361.9 926.2,360.8 929.1,360.2 932.0,360.2 934.9,360.2 937.7,360.2 940.6,360.2 943.5,360.7 946.3,361.8 949.2,363.0 951.7,364.4 954.2,366.1 956.8,367.6 959.3,368.2 961.9,367.8 964.5,366.7 967.0,365.4 969.6,364.3 972.2,363.9 975.1,364.0 977.9,364.3 980.8,364.8 983.6,365.3 986.5,365.9 989.4,366.8 992.3,368.1 995.1,369.5 998.0,370.7 1000.9,371.1 1003.8,371.1 1006.6,371.1 1009.5,371.1 1012.4,371.1 1015.2,371.1 1018.1,371.1 1021.0,371.1 1023.9,371.1 1026.7,371.1 1029.6,371.1 1032.5,370.8 1035.3,370.0 1038.2,369.0 1041.0,368.0 1043.9,367.3 1046.8,366.9 1049.6,366.6 1052.5,366.3 1055.4,366.0 1058.3,365.7 1061.1,365.4 1064.0,365.1 1066.9,364.7 1069.7,364.1 1072.6,363.5 1075.5,362.8 1078.4,362.2 1081.2,361.5 1084.1,360.9 1087.0,360.4 1089.9,360.0 1092.7,359.7 1095.6,359.6 1098.2,359.8 1100.8,360.4 1103.4,361.0 1106.1,361.7 1108.7,362.3 1111.3,362.5 1113.9,362.1 1116.5,361.1 1119.0,359.9 1121.6,358.7 1124.2,357.9 1127.1,357.4 1130.0,356.9 1132.8,356.5 1135.7,356.4 1138.6,356.8 1141.5,357.7 1144.3,358.9 1147.2,359.8 1150.1,360.2 1153.0,359.9 1155.8,359.0 1158.7,357.7 1161.6,356.4 1164.5,355.1 1167.3,354.2 1170.2,353.9 1173.1,353.9 1175.9,353.9 1178.8,353.9 1181.7,353.9 1184.5,353.9 1187.4,353.9 1190.2,353.9 1193.1,353.9 1196.0,353.9 1198.8,353.9 1201.7,353.9 1204.2,354.2 1206.8,354.9 1209.3,355.6 1211.8,355.9 1214.2,355.3 1216.5,354.2 1218.9,353.6 1221.8,354.1 1224.7,355.3 1227.5,356.6 1230.4,357.3 1233.3,357.6 1236.1,357.8 1239.0,358.0 1241.9,358.1 1244.7,358.2 1247.6,358.2 1250.5,357.1 1253.3,354.8 1256.2,353.0 1258.8,352.0 1261.4,351.1 1264.0,350.3 1266.6,349.8 1269.2,349.6 1272.0,350.4 1274.9,352.0 1277.8,353.6 1280.6,354.4 1283.5,353.5 1286.3,351.6 1289.2,349.6 1292.1,348.7 1294.7,348.7 1297.4,348.7 1300.0,348.7 1302.6,348.7 1305.3,348.7 1307.9,348.7 1310.8,347.7 1313.6,345.4 1316.5,343.5 1319.4,342.1 1322.2,340.7 1325.1,339.3 1328.0,338.2 1330.8,337.5 1333.7,337.2 1336.6,337.6 1339.4,338.3 1342.3,338.7 1344.9,337.9 1347.4,336.5 1350.0,335.7 1352.5,337.3 1355.1,341.4 1355.9,344.6 1356.8,349.9 1357.7,355.9 1358.5,361.3 1359.6,366.7 1360.8,371.7 1361.9,378.4 1362.4,382.0 1362.8,386.3 1363.3,391.4 1363.7,397.3 1364.2,404.1 1364.4,408.6 1364.7,414.5 1364.9,421.0 1365.1,427.6 1365.4,433.5 1365.6,438.3 1366.0,444.9 1366.3,451.1 1366.7,455.8 1367.1,457.6 1367.5,455.8 1367.8,451.2 1368.2,444.6 1368.6,437.3 1368.9,430.0 1369.3,424.0 1369.7,418.0 1370.1,411.8 1370.5,405.6 1371.0,399.7 1371.4,394.5 1371.8,390.1 1372.2,387.0 1373.3,380.7 1374.5,375.9 1375.6,374.1 1377.3,375.3 1379.0,378.4 1379.6,380.7 1380.2,384.9 1380.7,390.4 1381.3,396.9 1381.9,404.1 1382.2,407.7 1382.4,412.1 1382.7,417.1 1382.9,422.5 1383.2,428.3 1383.4,434.3 1383.7,440.4 1383.9,446.5 1384.2,452.5 1384.4,457.9 1384.7,463.5 1384.9,469.2 1385.1,475.0 1385.4,480.9 1385.6,486.8 1385.8,492.9 1386.1,499.0 1386.3,505.2 1386.5,511.4 1386.8,517.6 1387.0,523.8 1387.2,529.5 1387.4,535.4 1387.6,541.5 1387.8,547.5 1388.1,553.7 1388.3,559.8 1388.5,566.0 1388.7,572.0 1388.9,578.0 1389.1,583.9 1389.3,589.6 1389.5,595.1 1389.8,601.6 1390.1,607.9 1390.3,614.2 1390.6,620.5 1390.8,626.6 1391.1,632.6 1391.3,638.5 1391.6,644.3 1391.8,650.0 1392.1,655.6 1392.3,661.0 1392.6,666.3 1392.9,672.7 1393.2,679.0 1393.5,685.2 1393.8,691.3 1394.2,697.2 1394.5,702.8 1394.8,708.1 1395.1,713.1 1395.4,717.6 1395.9,724.7 1396.4,731.9 1396.8,738.4 1397.3,742.9 1397.8,744.7 1398.3,743.0 1398.9,738.5 1399.4,732.1 1400.0,724.8 1400.5,717.6 1400.8,713.2 1401.1,708.3 1401.5,703.0 1401.8,697.3 1402.1,691.3 1402.4,685.1 1402.8,678.9 1403.1,672.6 1403.4,666.3 1403.7,660.8 1404.0,655.0 1404.2,648.9 1404.5,642.8 1404.8,636.5 1405.1,630.2 1405.4,623.9 1405.6,617.7 1405.9,611.7 1406.2,605.9 1406.5,600.3 1406.8,595.1 1407.1,588.6 1407.5,582.2 1407.8,576.0 1408.2,569.9 1408.6,564.0 1408.9,558.4 1409.3,552.9 1409.7,547.7 1410.0,542.8 1410.4,538.1 1411.0,531.2 1411.5,524.4 1412.1,517.9 1412.7,511.7 1413.2,505.8 1413.8,500.4 1414.4,495.3 1414.9,490.7 1415.5,486.7 1416.7,479.2 1417.9,472.5 1419.0,466.5 1420.2,461.2 1421.4,456.6 1422.6,452.5 1425.0,445.7 1427.4,440.2 1429.8,435.4 1432.2,430.4 1434.5,425.9 1436.9,424.0 1439.8,424.1 1442.6,424.5 1445.5,424.9 1447.9,425.2 1450.2,425.6 1452.6,426.3 1454.0,430.4 1455.5,437.4 1456.9,441.1 1458.1,438.3 1459.4,431.7 1460.6,424.0 1461.3,419.0 1462.0,412.7 1462.6,406.1 1463.3,400.0 1464.0,395.5 1465.4,388.8 1466.8,383.4 1468.3,379.0 1469.7,375.6 1471.8,371.4 1474.0,369.3 1476.8,369.6 1479.7,369.9 1481.8,366.0 1483.9,361.3 1486.1,359.7 1488.2,359.0 1490.7,360.7 1493.1,365.6 1493.7,368.3 1494.2,373.1 1494.8,379.6 1495.3,387.2 1495.9,395.5 1496.1,399.4 1496.4,404.0 1496.6,409.3 1496.8,415.0 1497.1,421.1 1497.3,427.5 1497.5,433.9 1497.7,440.3 1498.0,446.5 1498.2,452.5 1498.4,458.3 1498.7,463.9 1498.9,469.5 1499.1,475.0 1499.4,480.5 1499.6,486.1 1499.8,491.9 1500.1,497.7 1500.3,503.8 1500.5,510.2 1500.8,516.8 1501.0,523.8 1501.2,528.8 1501.3,533.9 1501.5,539.3 1501.6,544.9 1501.8,550.6 1501.9,556.6 1502.1,562.6 1502.3,568.9 1502.4,575.3 1502.6,581.8 1502.7,588.4 1502.9,595.1 1503.0,600.3 1503.1,605.9 1503.2,611.8 1503.3,618.0 1503.5,624.3 1503.6,630.8 1503.7,637.3 1503.8,643.7 1503.9,650.0 1504.0,656.1 1504.1,661.9 1504.3,667.4 1504.4,672.3 1504.5,676.8 1504.6,680.6 1504.9,688.9 1505.1,697.1 1505.4,705.0 1505.7,712.6 1505.9,719.4 1506.2,725.5 1506.5,730.5 1506.8,734.3 1507.0,736.7 1507.3,737.6 1507.6,736.7 1507.9,734.3 1508.2,730.4 1508.5,725.3 1508.8,719.2 1509.1,712.3 1509.4,704.8 1509.7,696.9 1510.0,688.7 1510.3,680.6 1510.4,676.7 1510.6,672.2 1510.7,667.3 1510.8,661.9 1511.0,656.2 1511.1,650.2 1511.2,644.0 1511.4,637.7 1511.5,631.3 1511.6,624.8 1511.8,618.5 1511.9,612.3 1512.0,606.3 1512.2,600.5 1512.3,595.1 1512.5,589.0 1512.6,582.8 1512.8,576.8 1512.9,570.8 1513.1,564.9 1513.3,559.1 1513.4,553.6 1513.6,548.2 1513.7,543.0 1513.9,538.1 1514.1,531.3 1514.3,524.6 1514.6,517.9 1514.8,511.4 1515.0,505.3 1515.2,499.7 1515.5,494.6 1515.7,490.2 1515.9,486.7 1516.5,479.4 1517.0,473.0 1517.6,467.8 1518.1,463.8 1518.7,461.1 1521.2,453.9 1523.8,451.1 1524.8,453.1 1525.7,457.9 1526.7,463.9 1527.2,468.8 1527.7,475.5 1528.2,481.4 1528.7,483.9 1529.2,482.3 1529.6,478.0 1530.1,472.0 1530.5,465.1 1531.0,458.2 1531.3,453.2 1531.6,447.0 1531.9,440.1 1532.1,433.2 1532.4,426.9 1532.7,421.7 1533.0,418.3 1534.2,410.0 1535.5,404.4 1536.7,401.2 1539.6,397.9 1542.4,395.5 1545.2,391.6 1548.1,388.4 1550.2,387.0 1552.3,386.4 1554.0,389.0 1555.8,395.5 1556.2,398.7 1556.7,403.7 1557.1,410.0 1557.6,417.0 1558.0,424.0 1558.3,428.7 1558.6,433.6 1558.9,438.9 1559.2,444.4 1559.5,450.2 1559.7,456.1 1560.0,462.2 1560.3,468.4 1560.6,474.7 1560.9,481.0 1561.1,486.3 1561.4,491.8 1561.6,497.5 1561.8,503.3 1562.1,509.3 1562.3,515.2 1562.5,521.1 1562.8,527.0 1563.0,532.6 1563.2,538.1 1563.5,544.1 1563.8,549.9 1564.0,555.5 1564.3,561.1 1564.6,566.6 1564.8,572.1 1565.1,577.6 1565.4,583.3 1565.6,589.1 1565.9,595.1 1566.1,600.7 1566.4,606.9 1566.6,613.3 1566.8,620.0 1567.0,626.5 1567.3,632.9 1567.5,638.8 1567.7,644.1 1568.0,648.6 1568.2,652.1 1568.9,660.5 1569.6,667.8 1570.2,673.0 1570.9,674.9 1572.0,672.9 1573.1,667.6 1574.2,660.3 1575.3,652.1 1575.7,648.6 1576.2,644.3 1576.6,639.5 1577.0,634.2 1577.4,628.4 1577.8,622.3 1578.3,615.9 1578.7,609.3 1579.0,604.6 1579.3,599.5 1579.5,593.9 1579.8,588.0 1580.1,581.9 1580.4,575.7 1580.7,569.6 1580.9,563.6 1581.2,557.8 1581.5,552.3 1581.8,546.6 1582.1,541.0 1582.4,535.5 1582.7,530.1 1583.0,524.8 1583.3,519.6 1583.6,514.6 1583.9,509.6 1584.3,503.4 1584.7,497.2 1585.1,491.2 1585.4,485.3 1585.8,479.7 1586.2,474.5 1586.6,469.6 1587.2,462.7 1587.7,455.9 1588.3,449.6 1588.9,443.8 1589.4,439.0 1590.0,435.4 1591.2,429.6 1592.5,425.1 1593.7,422.6 1596.5,420.6 1598.0,423.6 1599.4,429.7 1600.3,435.6 1601.3,442.7 1602.2,446.8 1604.3,448.5 1606.5,449.7 1609.0,452.3 1611.6,454.0 1613.3,451.4 1615.1,444.0 1615.4,439.8 1615.8,432.8 1616.2,425.6 1616.5,421.2 1617.9,414.0 1619.3,411.2 1621.2,414.2 1623.0,421.2 1623.5,424.1 1624.0,428.2 1624.5,433.3 1624.9,439.3 1625.4,445.7 1625.9,452.5 1626.2,456.6 1626.5,461.1 1626.7,465.9 1627.0,471.1 1627.3,476.6 1627.6,482.5 1627.9,488.7 1628.1,495.3 1628.4,502.3 1628.7,509.6 1628.9,514.2 1629.0,519.5 1629.2,525.4 1629.3,531.6 1629.5,537.9 1629.6,544.3 1629.8,550.6 1629.9,556.5 1630.1,561.9 1630.3,566.6 1630.5,573.6 1630.8,580.1 1631.1,586.2 1631.3,591.9 1631.6,597.3 1631.8,602.6 1632.1,607.8 1632.4,612.9 1632.6,618.2 1632.9,623.6 1633.2,629.7 1633.5,636.1 1633.7,642.6 1634.0,649.2 1634.3,655.7 1634.6,661.8 1634.9,667.6 1635.1,672.7 1635.4,677.1 1635.7,680.6 1636.4,688.2 1637.1,695.2 1637.9,700.9 1638.6,704.8 1639.3,706.2 1640.2,704.8 1641.1,700.9 1641.9,695.1 1642.8,688.2 1643.7,680.6 1644.0,677.0 1644.4,672.5 1644.8,667.2 1645.1,661.4 1645.5,655.4 1645.8,649.3 1646.2,643.3 1646.5,637.8 1646.9,632.2 1647.2,626.3 1647.6,620.4 1647.9,614.5 1648.3,608.9 1648.7,603.7 1649.0,599.0 1649.4,595.1 1650.2,588.0 1651.0,581.9 1651.8,576.8 1652.6,572.3 1654.0,565.6 1655.4,560.0 1656.7,555.2 1658.8,548.1 1660.9,543.8 1663.4,542.7 1665.9,542.3 1666.6,543.7 1667.2,547.5 1667.8,553.0 1668.5,559.6 1669.1,566.6 1669.4,570.4 1669.7,575.4 1670.0,581.0 1670.2,587.1 1670.5,593.3 1670.8,599.3 1671.1,604.7 1671.4,609.3 1671.9,616.1 1672.3,623.0 1672.8,629.0 1673.2,633.4 1673.7,635.0 1674.3,633.4 1674.8,629.3 1675.4,623.4 1675.9,616.5 1676.5,609.3 1676.8,604.8 1677.1,598.9 1677.4,592.3 1677.6,585.7 1677.9,579.7 1678.2,575.0 1678.5,572.3 1680.1,565.2 1681.8,560.9 1683.4,559.4 1685.1,561.1 1686.8,565.7 1688.5,572.3 1689.0,575.1 1689.5,579.2 1690.0,584.4 1690.4,590.2 1690.9,596.5 1691.4,603.0 1691.9,609.3 1692.3,614.2 1692.6,619.5 1693.0,625.0 1693.4,630.8 1693.8,636.7 1694.1,642.7 1694.5,648.8 1694.9,654.7 1695.2,660.6 1695.6,666.3 1696.0,672.2 1696.3,678.8 1696.7,685.5 1697.0,692.2 1697.4,698.2 1697.8,703.3 1698.1,707.1 1698.5,709.1 1701.3,713.4 1702.2,710.9 1703.0,704.8 1703.9,697.7 1704.7,691.6 1705.6,689.1 1706.3,691.2 1707.0,696.4 1707.8,702.9 1708.5,709.1 1709.2,715.3 1709.9,722.3 1710.6,728.4 1711.3,731.9 1713.0,735.0 1714.7,736.2 1715.9,734.0 1717.2,728.9 1718.4,723.3 1719.5,718.1 1720.7,712.2 1721.8,706.0 1723.0,700.1 1724.1,694.8 1725.5,689.2 1727.0,684.2 1728.4,679.4 1729.9,674.5 1731.3,669.2 1732.5,664.4 1733.7,659.5 1734.8,654.4 1736.0,649.0 1737.2,643.5 1738.4,637.8 1739.4,632.6 1740.3,626.8 1741.2,620.7 1742.2,615.0 1743.1,610.1 1744.1,606.5 1746.1,602.2 1747.0,605.3 1748.0,611.8 1748.9,617.9 1750.1,624.2 1751.2,627.8 1751.4,626.1 1751.7,621.5 1751.9,615.1 1752.1,607.9 1752.4,600.9 1752.6,595.1 1752.9,589.1 1753.2,583.1 1753.5,577.2 1753.7,571.6 1754.0,566.5 1754.3,561.9 1754.6,558.0 1755.2,551.0 1755.8,544.8 1756.4,539.3 1757.1,534.5 1757.7,530.3 1758.3,526.6 1759.7,519.2 1761.2,513.0 1762.6,507.8 1764.0,503.8 1766.8,497.6 1769.7,493.9 1772.1,492.4 1774.5,491.4 1776.9,491.0 1779.8,491.3 1782.6,492.4 1783.7,496.0 1784.9,502.4 1786.0,506.7 1788.5,509.8 1791.1,511.0 1793.2,508.2 1795.4,505.3 1797.6,508.9 1799.7,512.4 1801.1,509.7 1802.5,503.8 1803.1,500.0 1803.7,494.5 1804.2,488.0 1804.8,481.3 1805.4,475.3 1806.0,469.4 1806.5,462.9 1807.1,456.9 1807.6,452.1 1808.2,449.7 1810.5,447.4 1811.2,448.8 1812.0,452.9 1812.7,459.8 1813.4,469.6 1813.5,471.9 1813.6,475.6 1813.7,480.6 1813.8,486.6 1813.9,493.3 1814.0,500.4 1814.0,507.7 1814.1,515.0 1814.2,521.9 1814.3,528.3 1814.4,533.7 1814.5,538.1 1814.7,546.6 1814.9,555.1 1815.1,563.4 1815.3,571.3 1815.5,578.7 1815.8,585.4 1816.0,591.2 1816.2,596.0 1816.4,599.7 1816.6,602.0 1816.8,602.8 1817.2,601.5 1817.6,598.1 1818.0,592.9 1818.4,586.7 1818.8,579.9 1819.2,573.0 1819.6,566.6 1819.9,561.1 1820.3,554.7 1820.6,547.9 1820.9,541.2 1821.2,535.1 1821.6,530.1 1821.9,526.6 1822.9,519.4 1823.9,513.5 1824.9,509.5 1825.9,508.1 1827.6,510.4 1829.3,515.5 1831.0,520.9 1832.9,525.7 1834.8,530.8 1836.7,538.1 1837.4,541.9 1838.1,546.9 1838.7,553.3 1839.4,560.9 1839.7,565.0 1840.0,570.3 1840.3,576.2 1840.5,582.6 1840.8,589.0 1841.1,595.1 1841.4,600.7 1841.6,606.3 1841.9,612.0 1842.2,617.7 1842.5,623.4 1842.7,629.2 1843.0,634.9 1843.3,640.7 1843.5,646.4 1843.8,652.1 1844.1,658.1 1844.3,664.4 1844.6,671.0 1844.9,677.6 1845.2,684.1 1845.4,690.3 1845.7,696.1 1846.0,701.3 1846.2,705.7 1846.5,709.1 1847.2,716.2 1847.8,722.5 1848.5,726.9 1849.2,728.6 1850.1,726.8 1850.9,721.9 1851.8,714.8 1852.6,706.0 1852.8,702.7 1853.1,698.1 1853.3,692.6 1853.5,686.3 1853.8,679.7 1854.0,672.9 1854.2,666.4 1854.5,660.3 1854.7,655.0 1855.0,648.0 1855.3,641.1 1855.7,635.3 1856.0,631.3 1857.0,625.1 1857.9,621.6 1859.7,618.9 1861.5,615.8 1862.0,612.9 1862.6,607.6 1863.1,600.0 1863.3,596.8 1863.4,592.3 1863.6,587.0 1863.8,581.1 1863.9,575.0 1864.0,569.6 1864.1,562.9 1864.3,556.2 1864.4,550.8 1864.5,548.0 1865.6,540.3 1866.7,538.1 1868.6,542.4 1870.4,546.6 1870.9,544.6 1871.4,539.7 1871.9,533.2 1872.4,526.6 1872.7,521.5 1873.1,515.1 1873.4,508.3 1873.7,502.1 1874.1,497.4 1874.4,495.3 1876.2,493.1 1878.1,492.4 1879.1,496.0 1880.2,503.8 1881.2,511.6 1882.3,515.2 1883.0,513.1 1883.8,508.0 1884.5,501.4 1885.2,495.3 1885.9,489.0 1886.6,481.9 1887.3,475.8 1888.0,472.5 1890.3,470.2 1890.7,471.5 1891.1,475.0 1891.5,480.5 1891.9,487.3 1892.3,495.3 1892.4,498.3 1892.5,502.2 1892.7,507.0 1892.8,512.5 1892.9,518.6 1893.0,525.2 1893.1,532.1 1893.2,539.1 1893.3,546.2 1893.5,553.3 1893.6,560.1 1893.7,566.6 1893.8,572.1 1893.9,577.7 1894.0,583.5 1894.1,589.4 1894.2,595.4 1894.3,601.4 1894.4,607.4 1894.5,613.4 1894.6,619.3 1894.7,625.2 1894.8,630.9 1894.9,636.5 1895.0,641.9 1895.1,647.1 1895.2,652.1 1895.3,659.2 1895.5,666.8 1895.6,674.6 1895.8,682.5 1895.9,690.4 1896.1,698.1 1896.2,705.5 1896.3,712.3 1896.5,718.5 1896.6,724.0 1896.8,728.4 1896.9,731.8 1897.1,734.0 1897.2,734.7 1897.5,733.6 1897.9,730.4 1898.2,725.5 1898.5,719.2 1898.8,711.7 1899.2,703.5 1899.5,694.8 1899.6,691.0 1899.7,686.0 1899.8,680.0 1900.0,673.4 1900.1,666.3 1900.2,659.0 1900.3,651.6 1900.4,644.6 1900.6,638.0 1900.7,632.1 1900.8,627.3 1900.9,623.6 1901.2,615.3 1901.6,607.5 1901.9,600.8 1902.2,595.5 1902.6,592.0 1902.9,590.8 1905.7,595.1 1908.0,599.3 1908.4,597.8 1908.8,593.7 1909.2,587.7 1909.5,580.8 1909.9,573.5 1910.3,566.6 1910.6,561.2 1910.9,554.8 1911.2,547.9 1911.4,541.1 1911.7,535.0 1912.0,529.9 1912.3,526.6 1913.4,519.0 1914.4,513.5 1915.5,509.6 1916.6,506.7 1919.4,501.4 1922.3,498.1 1924.7,496.3 1927.0,495.0 1929.4,493.9 1931.8,492.9 1934.2,492.4 1934.9,495.2 1935.7,501.9 1936.4,509.5 1937.1,515.2 1938.3,521.8 1939.6,527.2 1940.8,529.5 1941.5,527.6 1942.2,522.8 1942.9,516.4 1943.6,509.6 1944.0,504.7 1944.4,498.3 1944.8,491.7 1945.2,486.5 1945.6,483.9 1948.5,481.0 1949.4,482.6 1950.3,487.3 1951.3,494.5 1952.2,503.8 1952.4,506.4 1952.6,510.3 1952.7,515.0 1952.9,520.6 1953.1,526.8 1953.3,533.4 1953.5,540.3 1953.7,547.2 1953.8,554.1 1954.0,560.6 1954.2,566.6 1954.4,572.6 1954.6,579.2 1954.7,586.3 1954.9,593.7 1955.1,601.1 1955.3,608.4 1955.4,615.4 1955.6,621.8 1955.8,627.6 1956.0,632.4 1956.1,636.0 1956.3,638.4 1956.5,639.2 1956.8,638.1 1957.1,634.9 1957.3,630.1 1957.6,623.9 1957.9,616.9 1958.2,609.3 1958.5,601.5 1958.7,593.9 1959.0,586.9 1959.3,580.8 1959.6,575.0 1959.9,568.9 1960.2,562.8 1960.5,556.7 1960.8,550.8 1961.0,545.1 1961.3,539.7 1961.6,534.7 1961.9,530.3 1962.2,526.6 1962.9,518.9 1963.6,511.8 1964.2,505.8 1964.9,501.1 1965.6,498.1 1967.2,494.1 1968.7,492.4 1969.3,494.6 1970.0,500.2 1970.7,507.6 1971.3,515.2 1971.7,520.7 1972.1,527.9 1972.4,535.5 1972.8,542.5 1973.2,547.6 1973.6,549.5 1974.5,546.5 1975.5,539.8 1976.4,532.3 1977.0,527.0 1977.6,520.3 1978.1,513.7 1978.7,508.7 1979.3,506.7 1980.0,509.7 1980.7,516.7 1981.3,525.2 1982.0,532.2 1982.7,535.2 1983.0,533.5 1983.4,529.0 1983.7,522.5 1984.0,515.1 1984.3,507.4 1984.7,500.6 1985.0,495.3 1985.6,487.7 1986.2,480.3 1986.7,474.7 1987.3,472.5 1989.0,476.8 1990.7,481.0 1993.5,475.3 1993.9,477.6 1994.3,483.5 1994.7,491.6 1995.2,500.4 1995.6,508.5 1996.0,514.4 1996.4,516.7 1996.7,514.9 1997.1,510.2 1997.4,503.5 1997.7,496.0 1998.0,488.5 1998.4,482.2 1998.7,478.0 1999.7,471.7 2000.6,467.0 2001.6,462.8 2002.6,458.0 2003.0,454.5 2003.5,449.8 2004.0,444.3 2004.4,438.0 2004.7,431.5 2005.0,424.1 2005.3,420.5 2005.3,422.5 2005.4,427.8 2005.4,434.9 2005.5,442.8 2005.5,450.0 2005.5,454.7 2005.6,459.7 2005.6,464.7 2005.6,470.0 2005.6,475.3 2005.7,480.9 2005.7,486.5"/>
</g>
<g id="annotations">
<text transform="translate(1169.6 538.8) scale(1.000 1.020)" font-size="53.0">1775</text>
<line x1="1284.2" y1="506.3" x2="1326.9" y2="483.5" stroke="#000" stroke-width="3.6"/><polygon points="1357.8,467.0 1329.8,493.0 1320.6,475.8" fill="#000" stroke="#000" stroke-width="1.4" stroke-linejoin="round"/>
<text transform="translate(1171.2 789.8) scale(1.000 1.020)" font-size="53.0">1715</text>
<line x1="1278.0" y1="760.7" x2="1353.4" y2="753.5" stroke="#000" stroke-width="3.6"/><polygon points="1388.2,750.1 1352.3,763.3 1350.4,743.9" fill="#000" stroke="#000" stroke-width="1.4" stroke-linejoin="round"/>
<text transform="translate(1736.8 814.8) scale(1.000 1.020)" font-size="53.0">720</text>
<line x1="1817.9" y1="776.5" x2="1861.8" y2="756.7" stroke="#000" stroke-width="3.6"/><polygon points="1893.7,742.3 1864.0,766.4 1856.0,748.6" fill="#000" stroke="#000" stroke-width="1.4" stroke-linejoin="round"/>
<text transform="translate(1156.8 1033.1) scale(1.000 1.020)" font-size="53.0">1775</text>
<line x1="1267.7" y1="1008.2" x2="1326.3" y2="991.2" stroke="#000" stroke-width="3.6"/><polygon points="1359.9,981.4 1327.1,1001.1 1321.6,982.4" fill="#000" stroke="#000" stroke-width="1.4" stroke-linejoin="round"/>
<text transform="translate(1187.0 1305.2) scale(1.000 1.020)" font-size="53.0">1715</text>
<line x1="1305.0" y1="1267.4" x2="1351.1" y2="1265.8" stroke="#000" stroke-width="3.6"/><polygon points="1386.1,1264.6 1349.5,1275.6 1348.8,1256.1" fill="#000" stroke="#000" stroke-width="1.4" stroke-linejoin="round"/>
<text transform="translate(1552.5 1363.2) scale(1.000 1.020)" font-size="53.0">1110</text>
<line x1="1645.9" y1="1313.4" x2="1674.3" y2="1253.6" stroke="#000" stroke-width="3.6"/><polygon points="1689.3,1222.0 1682.2,1259.6 1664.6,1251.2" fill="#000" stroke="#000" stroke-width="1.4" stroke-linejoin="round"/>
<text transform="translate(1757.6 1375.6) scale(1.000 1.020)" font-size="53.0">720</text>
<line x1="1833.7" y1="1320.5" x2="1866.8" y2="1282.5" stroke="#000" stroke-width="3.6"/><polygon points="1889.8,1256.1 1872.8,1290.4 1858.1,1277.6" fill="#000" stroke="#000" stroke-width="1.4" stroke-linejoin="round"/>
</g>
</svg>
</body></html>
